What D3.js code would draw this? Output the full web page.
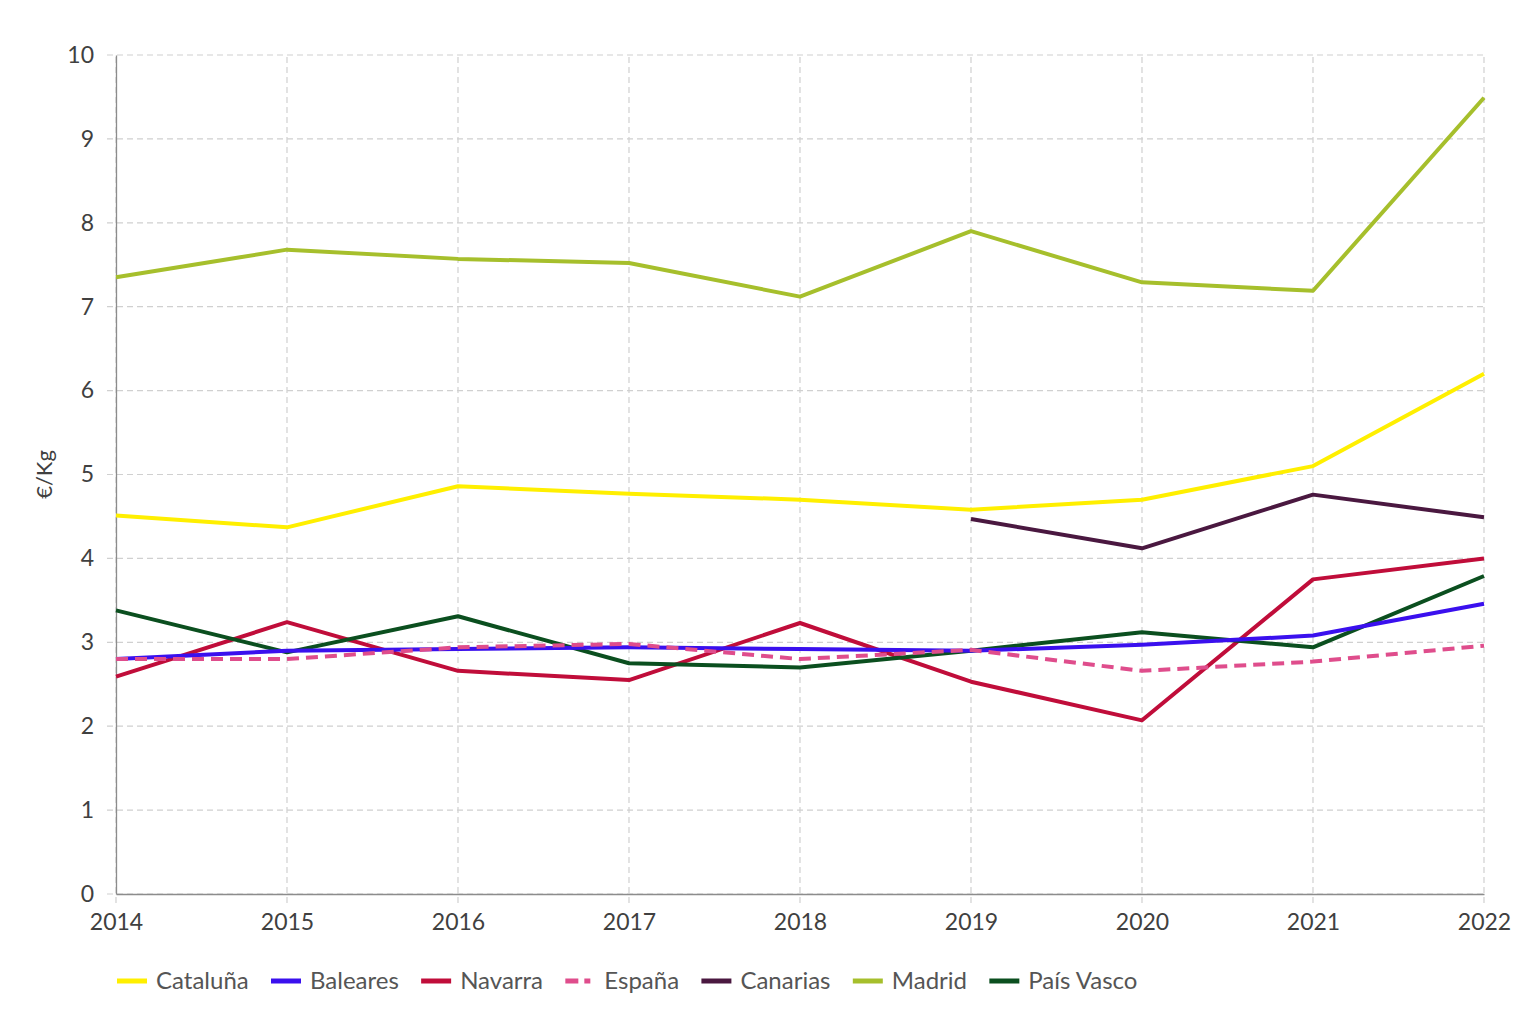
<!DOCTYPE html>
<html>
<head>
<meta charset="utf-8">
<script src="https://cdn.jsdelivr.net/npm/d3@7"></script>
<style>
  body { margin: 0; background: #fff; }
  svg { font-family: Lato, "Open Sans", sans-serif; }
</style>
</head>
<body>
<div id="chart"></div>
<script>
var years = [2014, 2015, 2016, 2017, 2018, 2019, 2020, 2021, 2022];
var yTicks = [0, 1, 2, 3, 4, 5, 6, 7, 8, 9, 10];

var cataluna  = [4.51, 4.37, 4.86, 4.77, 4.70, 4.58, 4.70, 5.10, 6.20];
var baleares  = [2.80, 2.90, 2.92, 2.94, 2.92, 2.90, 2.97, 3.08, 3.46];
var navarra   = [2.59, 3.24, 2.66, 2.55, 3.23, 2.53, 2.07, 3.75, 4.00];
var espana    = [2.80, 2.80, 2.94, 2.98, 2.80, 2.91, 2.66, 2.77, 2.96];
var canarias  = [null, null, null, null, null, 4.47, 4.12, 4.76, 4.49];
var madrid    = [7.35, 7.68, 7.57, 7.52, 7.12, 7.90, 7.29, 7.19, 9.49];
var paisVasco = [3.38, 2.88, 3.31, 2.75, 2.70, 2.90, 3.12, 2.94, 3.79];

var series = [
  { name: "Cataluña",   values: cataluna,  color: "#ffef00", dash: null },
  { name: "Baleares",   values: baleares,  color: "#3a10ee", dash: null },
  { name: "Navarra",    values: navarra,   color: "#c00d3a", dash: null },
  { name: "España",     values: espana,    color: "#df4d8c", dash: "12,7" },
  { name: "Canarias",   values: canarias,  color: "#4a1840", dash: null },
  { name: "Madrid",     values: madrid,    color: "#a6bf2c", dash: null },
  { name: "País Vasco", values: paisVasco, color: "#0b4f1f", dash: null }
];
// draw order: keep dashed España above the blue line
var drawOrder = ["Cataluña", "Madrid", "Canarias", "Navarra", "País Vasco", "Baleares", "España"];

var width = 1536, height = 1022;
var margin = { left: 116, right: 52, top: 55, bottom: 128 };

var svg = d3.select("#chart").append("svg")
  .attr("width", width).attr("height", height);

var x = d3.scaleLinear().domain([2014, 2022]).range([margin.left, width - margin.right]);
var y = d3.scaleLinear().domain([0, 10]).range([height - margin.bottom, margin.top]);

// grid (runs a few px past the axes, like tick marks)
svg.append("g").selectAll("line").data(yTicks).enter().append("line")
  .attr("x1", x(2014) - 9).attr("x2", x(2022))
  .attr("y1", d => y(d)).attr("y2", d => y(d))
  .attr("stroke", "#d0d0d0").attr("stroke-width", 1.2).attr("stroke-dasharray", "6,4");
svg.append("g").selectAll("line").data(years).enter().append("line")
  .attr("x1", d => x(d)).attr("x2", d => x(d))
  .attr("y1", y(0) + 9).attr("y2", y(10))
  .attr("stroke", "#d0d0d0").attr("stroke-width", 1.2).attr("stroke-dasharray", "6,4");

// axes
var xAxis = svg.append("g").attr("transform", "translate(0," + y(0) + ")")
  .call(d3.axisBottom(x).tickValues(years).tickFormat(d3.format("d")).tickSize(0).tickPadding(20));
var yAxis = svg.append("g").attr("transform", "translate(" + x(2014) + ",0)")
  .call(d3.axisLeft(y).tickValues(yTicks).tickSize(0).tickPadding(22));
[xAxis, yAxis].forEach(function (g) {
  g.select(".domain").attr("stroke", "#8c8c8c").attr("stroke-width", 1.3);
  g.selectAll("text").attr("font-size", 23).attr("fill", "#404040")
    .attr("font-family", "Lato, 'Open Sans', sans-serif");
});

svg.append("text")
  .attr("transform", "translate(52," + y(5) + ") rotate(-90)")
  .attr("text-anchor", "middle")
  .attr("font-size", 22).attr("fill", "#404040")
  .text("€/Kg");

// lines
var line = d3.line()
  .defined(d => d.v != null)
  .x(d => x(d.year)).y(d => y(d.v));

drawOrder.forEach(function (nm) {
  var s = series.find(t => t.name === nm);
  var pts = years.map((yr, i) => ({ year: yr, v: s.values[i] }));
  svg.append("path").datum(pts)
    .attr("d", line)
    .attr("fill", "none")
    .attr("stroke", s.color)
    .attr("stroke-width", 4)
    .attr("stroke-linejoin", "round")
    .attr("stroke-dasharray", s.dash);
});

// legend
var legend = svg.append("g").attr("transform", "translate(117,981)");
var lx = 0;
series.forEach(function (s) {
  var g = legend.append("g").attr("transform", "translate(" + lx + ",0)");
  g.append("line").attr("x1", 0).attr("x2", 30).attr("y1", 0).attr("y2", 0)
    .attr("stroke", s.color).attr("stroke-width", 5)
    .attr("stroke-dasharray", s.dash ? "13,6,6,6" : null);
  var t = g.append("text").attr("x", 39).attr("y", 8)
    .attr("font-size", 24).attr("fill", "#555").text(s.name);
  lx += 39 + t.node().getComputedTextLength() + 22.3;
});
</script>
</body>
</html>
